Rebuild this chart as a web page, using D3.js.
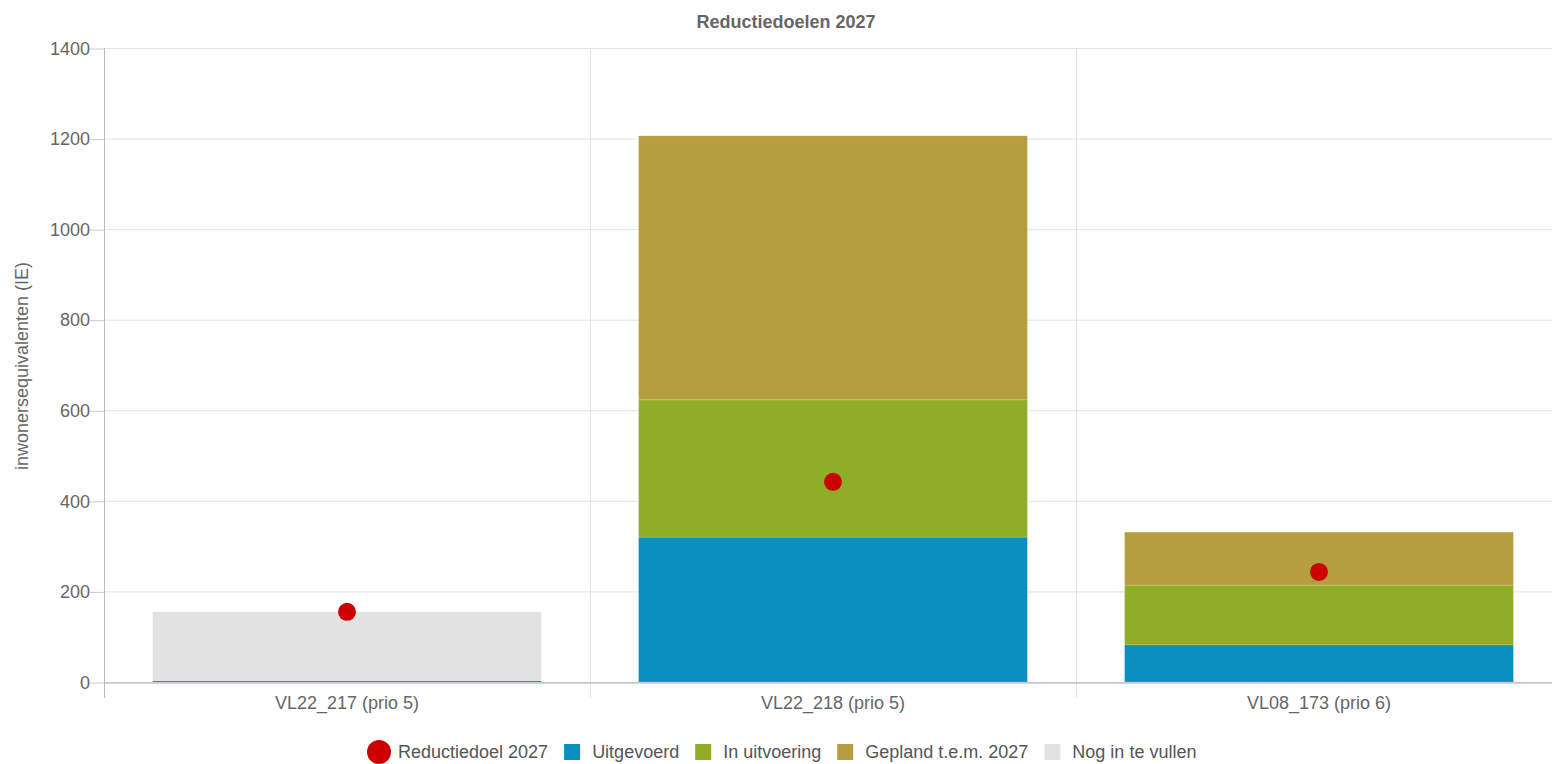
<!DOCTYPE html>
<html><head><meta charset="utf-8">
<script src="https://cdn.jsdelivr.net/npm/d3@7/dist/d3.min.js"></script>
<style>body{margin:0;background:#fff;overflow:hidden}svg{display:block;font-family:"Liberation Sans",Arial,sans-serif}</style>
</head><body><svg id="c" width="1552" height="764"></svg>
<script>
const categories = ["VL22_217 (prio 5)", "VL22_218 (prio 5)", "VL08_173 (prio 6)"];
const seriesNames = ["Uitgevoerd", "In uitvoering", "Gepland t.e.m. 2027", "Nog in te vullen"];
const uitgevoerd = [3, 320, 82];
const inUitvoering = [0, 303, 132];
const gepland = [0, 583, 117];
const nogInTeVullen = [152, 0, 0];
const reductiedoel = [155, 442, 243];
const yTicks = [0, 200, 400, 600, 800, 1000, 1200, 1400];
const colors = ["#0a8fbe", "#90ad27", "#b49e40", "#e2e2e2"];
const dotColor = "#cc0000";

const svg = d3.select("#c");
const m = {l:104};
const W = 1562;
const FF = "Liberation Sans, Arial, sans-serif";
const x = d3.scaleBand().domain(categories).range([m.l, W]).paddingInner(0).paddingOuter(0);
const y = d3.scaleLinear().domain([0, 1400]).range([682, 48]);

// grid
svg.append("g").selectAll("line").data(yTicks).join("line")
  .attr("x1", m.l).attr("x2", W).attr("y1", d=>y(d)+0.5).attr("y2", d=>y(d)+0.5)
  .attr("stroke", "#e3e3e3").attr("stroke-width", 1);
svg.append("g").selectAll("line").data(categories.slice(1)).join("line")
  .attr("x1", d=>Math.round(x(d))+0.5).attr("x2", d=>Math.round(x(d))+0.5).attr("y1", 48).attr("y2", 698)
  .attr("stroke", "#e3e3e3");

// axes (drawn below bars)
const ya = svg.append("g").attr("transform", `translate(${m.l},0.5)`)
  .call(d3.axisLeft(y).tickValues(yTicks).tickFormat(d3.format("d")).tickSize(14).tickPadding(0));
ya.select(".domain").remove();
svg.append("line").attr("x1", m.l+0.5).attr("x2", m.l+0.5).attr("y1", 48).attr("y2", 698).attr("stroke","#bbb");
ya.selectAll(".tick line").attr("stroke", "#ccc");
ya.selectAll("text").attr("fill", "#666").attr("font-size", 18).attr("font-family", FF);

const xa = svg.append("g").attr("transform", `translate(0,682.5)`)
  .call(d3.axisBottom(x).tickSize(0).tickPadding(14));
xa.select(".domain").attr("stroke", "#aaa").attr("d", `M${m.l},0.5H${W}`);
xa.selectAll("text").attr("fill", "#666").attr("font-size", 18).attr("font-family", FF);

// stacked bars
const rows = categories.map((c,i)=>({cat:c, s0:uitgevoerd[i], s1:inUitvoering[i], s2:gepland[i], s3:nogInTeVullen[i]}));
const stack = d3.stack().keys(["s0","s1","s2","s3"])(rows);
const bw = x.bandwidth()*0.8;
svg.append("g").selectAll("g").data(stack).join("g").attr("fill", (d,i)=>colors[i])
  .selectAll("rect").data(d=>d).join("rect")
  .attr("x", d=>x(d.data.cat)+(x.bandwidth()-bw)/2).attr("width", bw)
  .attr("y", d=>y(d[1])).attr("height", d=>Math.max(0, y(d[0])-y(d[1])))
  .attr("stroke", "#fff").attr("stroke-opacity", 0.35).attr("stroke-width", 0.5);

// dots
svg.append("g").selectAll("circle").data(reductiedoel).join("circle")
  .attr("cx", (d,i)=>x(categories[i])+x.bandwidth()/2).attr("cy", d=>y(d)).attr("r", 9)
  .attr("fill", dotColor);

// title
svg.append("text").attr("x", 786).attr("y", 28).attr("text-anchor","middle")
  .attr("font-size", 18).attr("font-weight","bold").attr("fill","#666").text("Reductiedoelen 2027");
// y label
svg.append("text").attr("transform","translate(28,366) rotate(-90)").attr("text-anchor","middle")
  .attr("font-size", 18).attr("fill","#666").text("inwonersequivalenten (IE)");

// legend
const leg = [{name:"Reductiedoel 2027", type:"dot", color:dotColor}].concat(seriesNames.map((n,i)=>({name:n, type:"sq", color:colors[i]})));
const lg = svg.append("g");
let lx = 0;
leg.forEach(d=>{
  const g = lg.append("g").attr("transform", `translate(${lx},0)`);
  if (d.type==="dot") g.append("circle").attr("cx", 11).attr("cy", 752).attr("r", 12).attr("fill", d.color);
  else g.append("rect").attr("x", 0).attr("y", 744).attr("width", 16).attr("height", 16).attr("fill", d.color);
  const off = d.type==="dot"?30:28;
  const t = g.append("text").attr("x", off).attr("y", 758).attr("font-size", 18).attr("fill","#555").text(d.name);
  const w = t.node().getComputedTextLength();
  lx += off + w + 16;
});
lg.attr("transform", `translate(368,0)`);
</script></body></html>
